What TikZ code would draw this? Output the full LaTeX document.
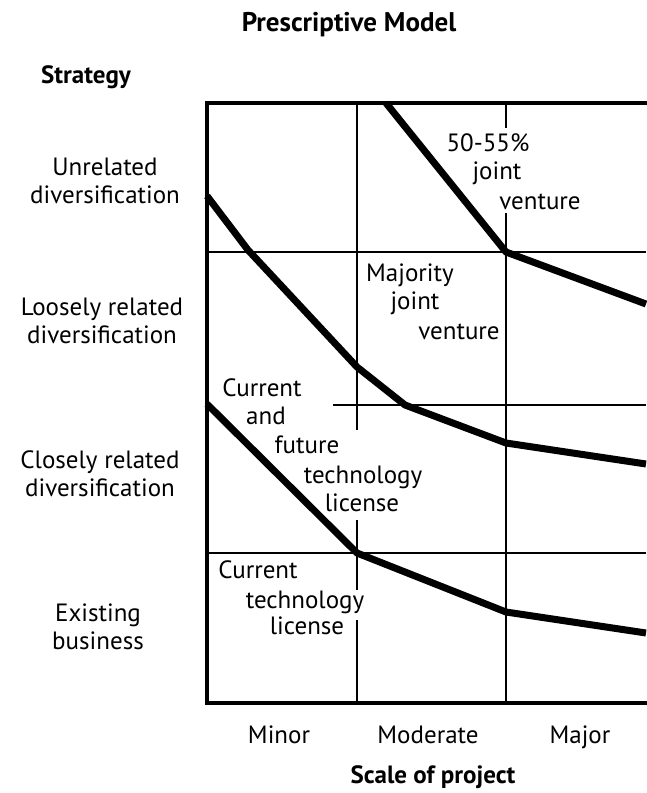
\documentclass[tikz,border=0pt]{standalone}
\usepackage{fontspec}
\setmainfont{PT Sans}
\usetikzlibrary{positioning}

\begin{document}
\begin{tikzpicture}[
  x=1pt, y=-1pt,
  font=\fontsize{25}{28}\selectfont,
  frame/.style={line width=3.8pt, line cap=rect},
  gridline/.style={line width=2.8pt},
  curve/.style={line width=7pt, line join=round},
  word/.style={inner sep=0pt, text height=18pt, text depth=6pt},
  rowlbl/.style={align=center, inner sep=0pt},
  heading/.style={inner sep=0pt, font=\bfseries\fontsize{25}{28}\selectfont}]
\useasboundingbox (0,0) rectangle (646,793);

% headings and axis labels
\node[heading, font=\bfseries\fontsize{27}{30}\selectfont] (title) at (349,25) {Prescriptive Model};
\node[heading] (strategy) at (86,77) {Strategy};
\node[rowlbl] (unrel) at (105,181) {Unrelated\\diversification};
\node[rowlbl] (loose) at (102,321) {Loosely related\\diversification};
\node[rowlbl] (close) at (100,474) {Closely related\\diversification};
\node[rowlbl] (exist) at (98,627) {Existing\\business};
\node[word] (minor) at (279,737) {Minor};
\node[word] (moderate) at (428,737) {Moderate};
\node[word] (major) at (580,737) {Major};
\node[heading, below=40pt of moderate.center, anchor=center, xshift=5pt] (scale) {Scale of project};

% grid
\draw[frame] (207,103) -- (207,703);
\draw[frame] (207,103) -- (646,103);
\draw[frame] (207,703) -- (646,703);
\draw[gridline] (207,252) -- (646,252);
\draw[gridline] (333,405) -- (646,405);
\draw[gridline] (207,553) -- (646,553);
\draw[gridline] (357,103) -- (357,430);
\draw[gridline] (357,520) -- (357,590);
\draw[gridline] (357,620) -- (357,703);
\draw[gridline] (506,103) -- (506,128);
\draw[gridline] (506,213) -- (506,703);

% cell labels
\node[word] (jv1a) at (488,145) {50-55\%};
\node[word] (jv1b) at (497,173) {joint};
\node[word] (jv1c) at (540,203) {venture};
\node[word] (jv2a) at (410,275) {Majority};
\node[word] (jv2b) at (415,303) {joint};
\node[word] (jv2c) at (459,333) {venture};
\node[word] (lic1a) at (262,390) {Current};
\node[word] (lic1b) at (266,418) {and};
\node[word] (lic1c) at (307,447) {future};
\node[word] (lic1d) at (363,477) {technology};
\node[word] (lic1e) at (362,505) {license};
\node[word] (lic2a) at (258,572) {Current};
\node[word] (lic2b) at (305,602) {technology};
\node[word] (lic2c) at (307,628) {license};

% boundaries
\draw[curve] (386,103) -- (506,252) -- (646,304);
\draw[curve] (207,196) -- (248,250) -- (357,367) -- (405,405) -- (506,443) -- (646,464);
\draw[curve] (207,404) -- (357,553) -- (506,612) -- (646,633);
\end{tikzpicture}
\end{document}
